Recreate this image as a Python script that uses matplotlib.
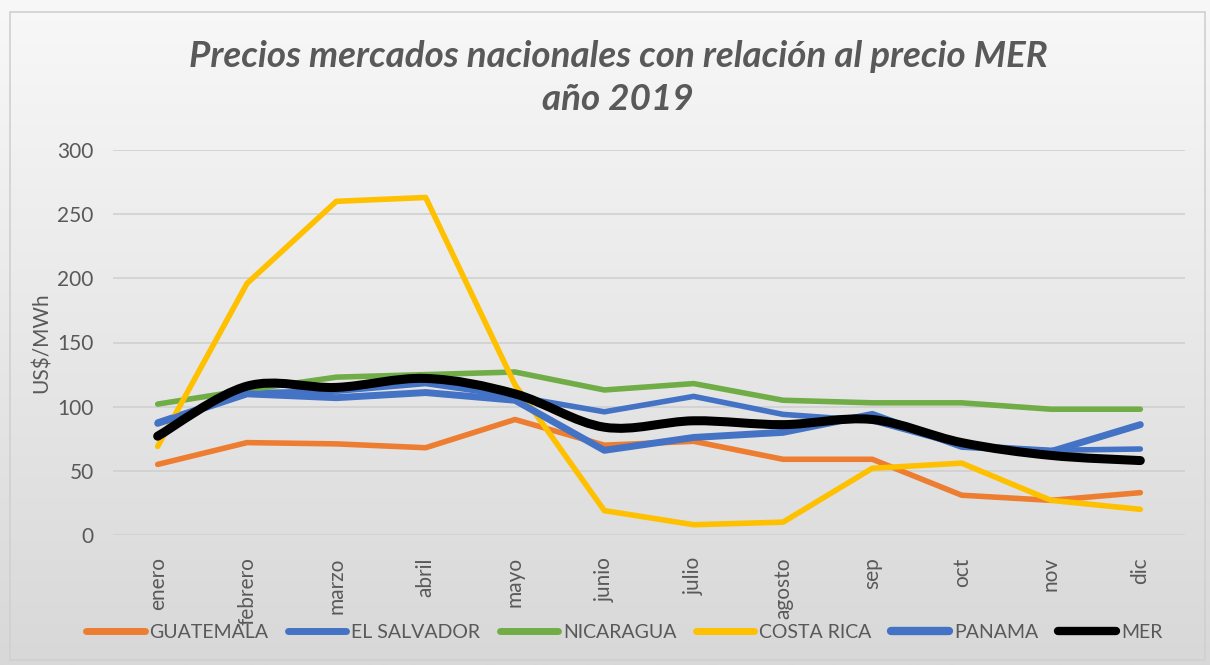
import numpy as np
import matplotlib
matplotlib.use("Agg")
import matplotlib.pyplot as plt
from matplotlib.path import Path
from matplotlib.patches import PathPatch
from matplotlib.lines import Line2D
from matplotlib.colors import LinearSegmentedColormap

plt.rcParams['font.family'] = ['Lato', 'DejaVu Sans']

meses = ['enero', 'febrero', 'marzo', 'abril', 'mayo', 'junio', 'julio',
         'agosto', 'sep', 'oct', 'nov', 'dic']

guatemala = [55, 72, 71, 68, 90, 70, 73, 59, 59, 31, 27, 33]
el_salvador = [88, 111, 112, 118, 108, 96, 108, 94, 89, 70, 66, 67]
nicaragua = [102, 113, 123, 125, 127, 113, 118, 105, 103, 103, 98, 98]
costa_rica = [69, 196, 260, 263, 117, 19, 8, 10, 52, 56, 27, 20]
panama = [87, 110, 107, 111, 105, 66, 76, 80, 94, 69, 65, 86]
mer = [77, 116, 115, 122, 110, 84, 89, 86, 90, 72, 62, 58]

series = [
    ('GUATEMALA', guatemala, '#ED7D31', 4),
    ('EL SALVADOR', el_salvador, '#4472C4', 4),
    ('NICARAGUA', nicaragua, '#70AD47', 4),
    ('COSTA RICA', costa_rica, '#FFC000', 4),
    ('PANAMA', panama, '#4472C4', 5),
]

gris = '#595959'

fig = plt.figure(figsize=(12.1, 6.65), dpi=100)

# fondo con degradado como en Excel
bg = fig.add_axes([0, 0, 1, 1], zorder=-10)
grad = np.linspace(0, 1, 256).reshape(-1, 1)
cmap = LinearSegmentedColormap.from_list('g', ['#f8f8f8', '#d8d8d8'])
bg.imshow(grad, aspect='auto', cmap=cmap, extent=[0, 1, 0, 1], origin='upper')
bg.set_xlim(0, 1)
bg.set_ylim(0, 1)
bg.add_patch(plt.Rectangle((10 / 1210, 5 / 665), 1195 / 1210, 648 / 665,
                           fill=False, edgecolor='#d0d0d0', lw=1.2))
bg.axis('off')

ax = fig.add_axes([113 / 1210, 1 - 535 / 665, 1072 / 1210, 385 / 665])
ax.patch.set_alpha(0)
x = np.arange(len(meses))

for nombre, vals, color, lw in series:
    ax.plot(x, vals, color=color, lw=lw, solid_capstyle='round',
            solid_joinstyle='round', label=nombre)


def smooth_path(xs, ys):
    # curva suavizada tipo Excel (Catmull-Rom a Bezier)
    pts = list(zip(xs, ys))
    verts = [pts[0]]
    codes = [Path.MOVETO]
    for i in range(len(pts) - 1):
        p0 = pts[i - 1] if i > 0 else pts[i]
        p1 = pts[i]
        p2 = pts[i + 1]
        p3 = pts[i + 2] if i + 2 < len(pts) else pts[i + 1]
        c1 = (p1[0] + (p2[0] - p0[0]) / 6, p1[1] + (p2[1] - p0[1]) / 6)
        c2 = (p2[0] - (p3[0] - p1[0]) / 6, p2[1] - (p3[1] - p1[1]) / 6)
        verts += [c1, c2, p2]
        codes += [Path.CURVE4] * 3
    return Path(verts, codes)


ax.add_patch(PathPatch(smooth_path(x, mer), fill=False, edgecolor='black',
                       lw=6.5, capstyle='round', joinstyle='round', zorder=5))

ax.set_xlim(-0.5, 11.5)
ax.set_ylim(0, 300)
ax.set_yticks(range(0, 301, 50))
ax.yaxis.grid(True, color='#d0d0d0', lw=1.2)
ax.set_axisbelow(True)
for s in ax.spines.values():
    s.set_visible(False)
ax.tick_params(length=0, colors=gris, labelsize=15)
ax.tick_params(axis='y', pad=14)
ax.set_xticks(x)
ax.set_xticklabels(meses, rotation=90, va='top', ha='center')
ax.tick_params(axis='x', pad=16)
ax.set_ylabel('US$/MWh', color=gris, fontsize=15, labelpad=4)

fig.text(0.511, 0.883, 'Precios mercados nacionales con relación al precio MER\naño 2019',
         ha='center', va='center', fontsize=26.5, fontweight='bold',
         fontstyle='italic', color=gris, linespacing=1.35)

handles = [Line2D([], [], color=c, lw=lw + 1, solid_capstyle='round')
           for _, _, c, lw in series]
handles.append(Line2D([], [], color='black', lw=6, solid_capstyle='round'))
labels = [s[0] for s in series] + ['MER']
fig.legend(handles, labels, loc='center', bbox_to_anchor=(0.516, 0.049),
           ncol=6, frameon=False, fontsize=14, labelcolor=gris,
           handlelength=3.0, handletextpad=0.25, columnspacing=1.0)

fig.savefig('out.png', dpi=100)
